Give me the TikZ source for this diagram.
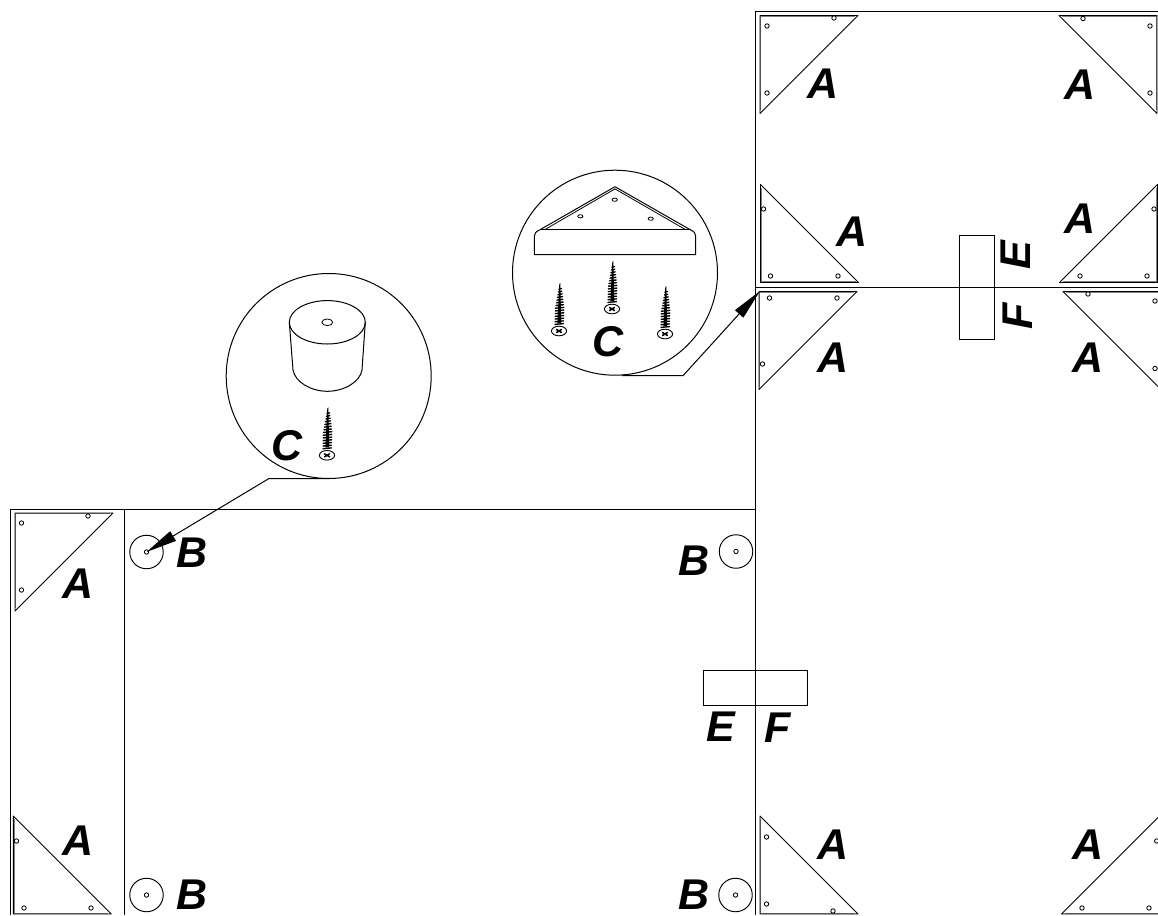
\documentclass[tikz,border=0pt]{standalone}
\usepackage{fontspec}
\setmainfont{Liberation Sans}
\usetikzlibrary{arrows.meta}
\tikzset{
  x=1pt,y=-1pt,
  panel/.style={draw=black,line width=1.3pt},
  thin line/.style={draw=black,line width=0.95pt},
  inner leg/.style={draw=black!50,line width=0.9pt},
  hole/.style={circle,draw=black,line width=0.85pt,inner sep=0pt,minimum size=4.4pt,fill=white},
  foot/.style={circle,draw=black,line width=0.95pt,inner sep=0pt,minimum size=33.5pt},
  zoomcircle/.style={circle,draw=black,line width=1pt,inner sep=0pt,minimum size=205pt},
  flat/.style={draw=black,line width=1pt},
  lbl/.style={inner sep=0pt,font=\fontsize{43}{43}\selectfont\bfseries\itshape},
  leader/.style={draw=black,line width=1pt,-{Triangle[length=31pt,width=11pt,fill=black]}},
  screw/.pic={
    \fill[black] (-1.6,-8) -- (0.3,-47) -- (1.3,-48) -- (2.2,-8) -- cycle;
    \foreach \i in {0,...,13}{
      \pgfmathsetmacro\yy{-7-\i*2.7}
      \pgfmathsetmacro\hw{\i<7 ? 4.2 : 4.2-(\i-6)*0.42}
      \pgfmathsetmacro\xo{(-\yy)*0.028}
      \draw[black,line width=1.4pt,line cap=round] (\xo-\hw,\yy+0.4) -- (\xo+\hw,\yy-0.4);
    }
    \draw[black,line width=0.9pt,fill=white] (0,0) ellipse [x radius=7.6pt,y radius=4.8pt];
    \draw[black,line width=1.5pt] (-2.8,-1.7) -- (2.8,1.7) (-2.8,1.7) -- (2.8,-1.7);
  }
}
% right-angle corner (#1,#2), leg directions (#3,#4) in x and y
\newcommand\bracketA[4]{%
  \draw[inner leg] ({#1+95*(#3)},{#2+0.9*(#4)}) -- ({#1+0.9*(#3)},{#2+0.9*(#4)}) -- ({#1+0.9*(#3)},{#2+95*(#4)});
  \draw[thin line,line join=round] (#1,#2) -- ({#1+98*(#3)},#2) -- (#1,{#2+98*(#4)}) -- cycle;
}
\begin{document}
\begin{tikzpicture}
\useasboundingbox (0,0) rectangle (1158,915);
% panel outlines
\coordinate (pTR) at (1158,11.5);
\coordinate (pTL) at (755.5,11.5);
\coordinate (pBm) at (755.5,915);
\coordinate (pMR) at (1158,287.5);
\coordinate (pML) at (755.5,287.5);
\coordinate (pLa) at (10.5,509.5);
\coordinate (pLb) at (755.5,509.5);
\coordinate (pLc) at (10.5,915);
\coordinate (pLd) at (124.5,509.5);
\coordinate (pLe) at (124.5,915);
\draw[panel] (pTR) -- (pTL) -- (pBm);
\draw[panel] (pML) -- (pMR);
\draw[panel] (pLc) -- (pLa) -- (pLb);
\draw[panel] (pLd) -- (pLe);
% triangular brackets
\bracketA{760}{15.5}{1}{1}
\bracketA{1157}{15.5}{-1}{1}
\bracketA{760.5}{282.5}{1}{-1}
\bracketA{1157.5}{282.5}{-1}{-1}
\bracketA{759}{291.5}{1}{1}
\bracketA{1161}{291.5}{-1}{1}
\bracketA{15}{513}{1}{1}
\bracketA{13.3}{914}{1}{-1}
\bracketA{760}{914}{1}{-1}
\bracketA{1159.5}{914}{-1}{-1}
% holes
\foreach \n/\hx/\hy in {
 a1/767/26,a2/834/18,a3/767/93,
 b1/1083/18.5,b2/1150/26,b3/1150/93,
 c1/763.5/209,c2/770.5/276,c3/838/276,
 d1/1154/209,d2/1080/276,d3/1147/276,
 e1/769.5/298,e2/837/298,e3/762.5/364,
 f1/1088/294,f2/1155/301,f3/1155/368.5,
 g1/21.5/523,g2/88/516,g3/21.5/590,
 h1/16.5/841,h2/24/908,h3/91/908,
 i1/766.5/837,i2/766.5/904,i3/833/911,
 j1/1082/908,j2/1149/908,j3/1156.7/841}{
  \node[hole] (hole\n) at (\hx,\hy) {};
}
% feet
\node[foot] (footTL) at (146.5,552) {};
\node[foot] (footTR) at (736,551.5) {};
\node[foot] (footBL) at (146.5,895) {};
\node[foot] (footBR) at (735.5,895) {};
\node[hole] (footTLh) at (footTL.center) {};
\node[hole] (footTRh) at (footTR.center) {};
\node[hole] (footBLh) at (footBL.center) {};
\node[hole] (footBRh) at (footBR.center) {};
% E/F strips
\coordinate (rA) at (703.5,670.5);
\coordinate (rB) at (807,705.7);
\coordinate (rC) at (959.5,235.5);
\coordinate (rD) at (994.5,339.5);
\draw[thin line] (rA) rectangle (rB);
\draw[thin line] (rC) rectangle (rD);
% zoom circles
\node[zoomcircle] (zoomBracket) at (615,272.7) {};
\node[zoomcircle] (zoomFoot) at (328.7,376) {};
% bracket detail
\draw[flat,line join=round] (539.5,230) -- (615,186.7) -- (690.7,230);
\draw[thin line,line width=0.8pt] (545,229.5) -- (615,188.9) -- (685.3,229.5);
\draw[flat] (539.5,229.5) -- (690.7,229.5);
\draw[flat,line join=round] (539.5,230) .. controls (536,231.5) and (534.3,233.5) .. (534.3,236) -- (534.3,254.7) -- (695.7,254.7) -- (695.7,236) .. controls (695.7,233.5) and (694,231.5) .. (690.7,230);
\draw[thin line,line width=0.8pt] (614.7,199.7) ellipse [x radius=2.6pt,y radius=1.6pt];
\draw[thin line,line width=0.8pt] (580.3,216.3) ellipse [x radius=2.6pt,y radius=1.6pt];
\draw[thin line,line width=0.8pt] (650.7,218.7) ellipse [x radius=2.6pt,y radius=1.6pt];
\pic at (559,331) {screw};
\pic at (612,309) {screw};
\pic at (665,334) {screw};
% foot detail
\draw[flat] (327.3,322.3) ellipse [x radius=38pt,y radius=21.7pt];
\draw[thin line,line width=0.8pt] (327.3,322.3) ellipse [x radius=5.4pt,y radius=3.3pt];
\draw[flat,line join=round] (289.3,322.3) -- (293,370) .. controls (295,382) and (311,391.3) .. (327.3,391.3) .. controls (344,391.3) and (360,382) .. (362,370) -- (365.3,322.3);
\pic at (327,455.3) {screw};
% leaders
\coordinate (ldA0) at (622,375.7);
\coordinate (ldA1) at (683,375.7);
\coordinate (ldAt) at (760,291);
\draw[leader,line join=round] (ldA0) -- (ldA1) -- (ldAt);
\coordinate (ldB0) at (329,478.5);
\coordinate (ldB1) at (269,478.5);
\draw[leader,line join=round] (ldB0) -- (ldB1) -- (footTLh.center);
% labels
\foreach \n/\lx/\ly in {
 A1/823/84,A2/1080/85,A3/852/232,A4/1080/219,A5/833/358,A6/1088/358,
 A7/78/584,A8/78/841,A9/833/845,A10/1088/845}{
  \node[lbl] (lab\n) at (\lx,\ly) {A};
}
\node[lbl] (labB1) at (192,553) {B};
\node[lbl] (labB2) at (192,895) {B};
\node[lbl] (labB3) at (694,561) {B};
\node[lbl] (labB4) at (694,895) {B};
\node[lbl] (labC1) at (608,342) {C};
\node[lbl] (labC2) at (287,446) {C};
\node[lbl] (labE1) at (721,727) {E};
\node[lbl] (labF1) at (778,728) {F};
\node[lbl,rotate=90] (labE2) at (1016,255) {E};
\node[lbl,rotate=90] (labF2) at (1018,316) {F};
\end{tikzpicture}
\end{document}
